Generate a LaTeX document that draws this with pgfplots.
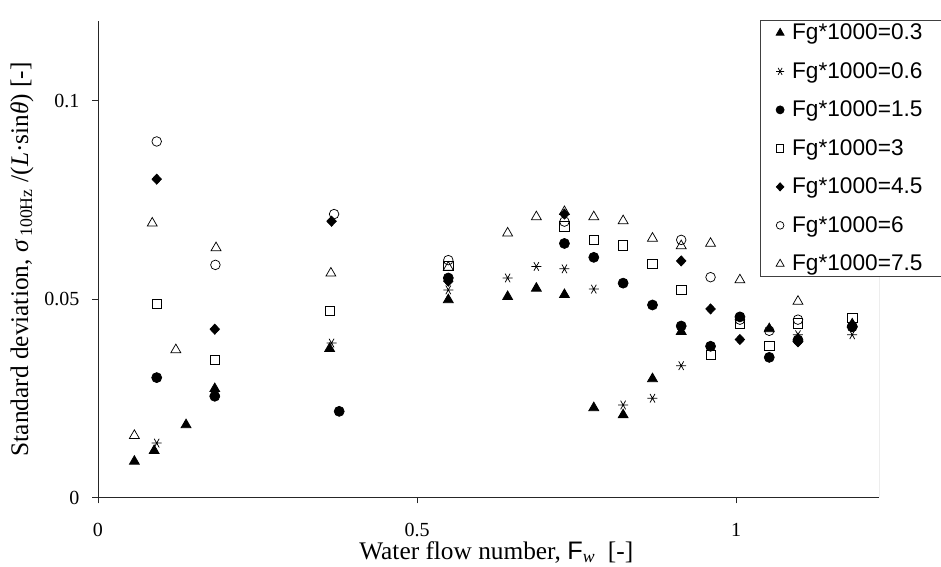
\documentclass[border=0pt]{standalone}
\usepackage{fontspec}
\setmainfont{Liberation Serif}
\setsansfont{Liberation Sans}
\usepackage{pgfplots}
\pgfplotsset{compat=1.18}
\begin{document}
\begin{tikzpicture}
\useasboundingbox (-73.5pt,-52.1pt) rectangle (632.25pt,373.1pt);
\begin{axis}[
  anchor=origin, at={(0pt,0pt)},
  scale only axis, width=585.75pt, height=357.2pt,
  xmin=0, xmax=1.224, ymin=0, ymax=0.12,
  axis x line*=bottom, axis y line*=left,
  axis line style={black!85, line width=0.7pt},
  tick style={black!85, line width=0.7pt},
  tick align=outside, major tick length=4.5pt,
  xtick={0,0.5,1}, xticklabels={0,0.5,1},
  ytick={0,0.05,0.1}, yticklabels={0,0.05,0.1},
  tick label style={font=\fontsize{15}{18}\selectfont},
  xticklabel style={yshift=-11pt},
  yticklabel style={xshift=-6pt},
  xlabel={Water flow number, {\sffamily F}\textsubscript{\textit{w}}~~[-]},
  ylabel={Standard deviation, \textit{σ}\textsubscript{\,100Hz} /(\textit{L}·sin\textit{θ}) [-]},
  label style={font=\fontsize{19}{22}\selectfont},
  xlabel style={at={(axis description cs:0.51,0)}, yshift=-41pt, anchor=center},
  ylabel style={at={(axis description cs:-0.0973,0.50)}, anchor=center},
  legend style={at={(0.8476,1.0034)}, anchor=north west, draw=black!75, line width=0.6pt,
    fill=white, font=\fontsize{17}{20}\selectfont\sffamily, row sep=11.5pt,
    inner xsep=11.8pt, inner ysep=1pt, cells={anchor=west},
    /tikz/every odd column/.append style={column sep=4pt}},
  legend image code/.code={\draw[mark repeat=2,mark phase=2,#1] plot coordinates {(0cm,0cm)(0.15cm,0cm)(0.3cm,0cm)};},
  legend image post style={scale=0.8},
  every axis plot/.append style={only marks, black, line width=0.55pt},
]
\draw[black!55, line width=0.6pt] (axis cs:1.224,0) -- (axis cs:1.224,0.12);
\addplot[mark=triangle*, mark size=4.3pt, mark options={fill=black}] coordinates {
(0.057,0.0091)(0.088,0.0118)(0.138,0.0183)(0.183,0.0274)(0.363,0.0375)(0.549,0.0498)
(0.642,0.0506)(0.687,0.0527)(0.731,0.0511)(0.777,0.0226)(0.823,0.0208)(0.869,0.0299)
(0.914,0.0418)(1.052,0.0425)(1.097,0.0400)(1.182,0.0437)};
\addlegendentry{\makebox[120pt][l]{Fg*1000=0.3}}
\addplot[mark=asterisk, mark size=3.75pt, mark options={rotate=90}] coordinates {
(0.092,0.0137)(0.183,0.0258)(0.366,0.0389)(0.549,0.0523)(0.642,0.0553)(0.687,0.0582)
(0.731,0.0576)(0.777,0.0525)(0.823,0.0233)(0.869,0.0250)(0.914,0.0332)(1.097,0.0410)(1.182,0.0410)};
\addlegendentry{Fg*1000=0.6}
\addplot[mark=*, mark size=3.75pt, mark options={fill=black}] coordinates {
(0.092,0.0302)(0.183,0.0255)(0.378,0.0217)(0.549,0.0553)(0.731,0.0640)(0.777,0.0605)
(0.823,0.0540)(0.869,0.0485)(0.914,0.0432)(0.960,0.0381)(1.006,0.0455)(1.052,0.0353)
(1.097,0.0397)(1.182,0.0430)};
\addlegendentry{Fg*1000=1.5}
\addplot[mark=square, mark size=3.5pt] coordinates {
(0.092,0.0488)(0.183,0.0346)(0.363,0.0470)(0.549,0.0583)(0.731,0.0683)(0.777,0.0649)
(0.823,0.0635)(0.869,0.0588)(0.914,0.0523)(0.960,0.0360)(1.006,0.0438)(1.052,0.0382)
(1.097,0.0439)(1.182,0.0452)};
\addlegendentry{Fg*1000=3}
\addplot[mark=diamond*, mark size=3.8pt, mark options={fill=black, xscale=1.25}] coordinates {
(0.092,0.0802)(0.183,0.0424)(0.366,0.0696)(0.549,0.0545)(0.731,0.0714)(0.914,0.0596)
(0.960,0.0475)(1.006,0.0398)(1.097,0.0392)(1.182,0.0431)};
\addlegendentry{Fg*1000=4.5}
\addplot[mark=o, mark size=3.6pt] coordinates {
(0.092,0.0897)(0.184,0.0586)(0.370,0.0714)(0.549,0.0598)(0.731,0.0695)(0.914,0.0649)
(0.960,0.0555)(1.006,0.0448)(1.052,0.0420)(1.097,0.0448)(1.182,0.0432)};
\addlegendentry{Fg*1000=6}
\addplot[mark=triangle, mark size=4.3pt] coordinates {
(0.057,0.0156)(0.085,0.0691)(0.122,0.0372)(0.185,0.0629)(0.365,0.0565)(0.549,0.0580)
(0.642,0.0666)(0.687,0.0707)(0.731,0.0720)(0.777,0.0707)(0.823,0.0697)(0.869,0.0653)
(0.914,0.0634)(0.960,0.0640)(1.006,0.0548)(1.097,0.0494)};
\addlegendentry{Fg*1000=7.5}
\end{axis}
\end{tikzpicture}
\end{document}
